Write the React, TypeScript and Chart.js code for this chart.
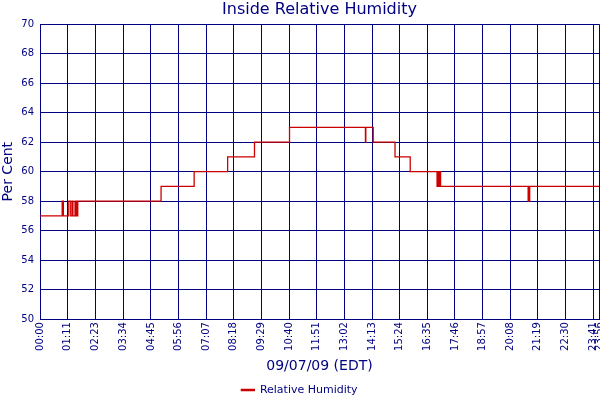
import React, { useRef, useEffect } from 'react';
import Chart from 'chart.js/auto';

// minutes after midnight where the reading changes, and the new reading
const changeMinutes = [
    0, 57, 60, 74, 79, 83, 84.5, 90, 91.5, 93, 94.5, 97,
    311, 396, 482, 551, 641,
    836, 837, 856, 912, 951,
    1020, 1021, 1023, 1024.5, 1026, 1027.5, 1029,
    1254, 1255, 1257, 1258, 1436,
];
const humidity = [
    57, 58, 57, 58, 57, 58, 57, 58, 57, 58, 57, 58,
    59, 60, 61, 62, 63,
    62, 63, 62, 61, 60,
    59, 60, 59, 60, 59, 60, 59,
    58, 59, 58, 59, 59,
];
const tickLabels = [
    '00:00', '01:11', '02:23', '03:34', '04:45', '05:56', '07:07', '08:18',
    '09:29', '10:40', '11:51', '13:02', '14:13', '15:24', '16:35', '17:46',
    '18:57', '20:08', '21:19', '22:30', '23:41', '23:56',
];

const NAVY = '#000080';
const RED = '#cc0000';
const FONT = 'DejaVu Sans';

const toMinutes = (s: string) => {
    const [h, m] = s.split(':').map(Number);
    return h * 60 + m;
};
const tickMinutes = tickLabels.map(toMinutes);

const HumidityChart: React.FC = () => {
    const canvasRef = useRef<HTMLCanvasElement>(null);
    const chartRef = useRef<Chart | null>(null);

    useEffect(() => {
        document.body.style.margin = '0';
        if (chartRef.current) chartRef.current.destroy();
        if (!canvasRef.current) return;

        chartRef.current = new Chart(canvasRef.current, {
            type: 'line',
            data: {
                datasets: [{
                    label: 'Relative Humidity',
                    data: changeMinutes.map((x, i) => ({ x, y: humidity[i] })),
                    borderColor: RED,
                    backgroundColor: RED,
                    borderWidth: 1.3,
                    pointRadius: 0,
                    stepped: true,
                    fill: false,
                }],
            },
            options: {
                responsive: false,
                animation: false,
                layout: { padding: { top: 0, left: 0, right: 1, bottom: -5.5 } },
                plugins: {
                    title: {
                        display: true,
                        text: 'Inside Relative Humidity',
                        color: NAVY,
                        fullSize: false,
                        font: { family: FONT, size: 16, weight: 'normal' },
                        padding: { top: 0, bottom: 5 },
                    },
                    legend: {
                        position: 'bottom',
                        labels: {
                            boxWidth: 13,
                            boxHeight: 1,
                            padding: 10,
                            color: NAVY,
                            font: { family: FONT, size: 11 },
                        },
                    },
                    tooltip: { enabled: false },
                },
                scales: {
                    x: {
                        type: 'linear',
                        min: 0,
                        max: tickMinutes[tickMinutes.length - 1],
                        afterBuildTicks: (scale: any) => {
                            scale.ticks = tickMinutes.map((value) => ({ value }));
                        },
                        afterFit: (scale: any) => {
                            scale.height = 55.4;
                            scale.paddingLeft = 0;
                            scale.paddingRight = 0;
                        },
                        grid: { color: NAVY, lineWidth: 1, drawTicks: false },
                        border: { color: NAVY },
                        ticks: {
                            autoSkip: false,
                            minRotation: 90,
                            maxRotation: 90,
                            padding: 3,
                            color: NAVY,
                            font: { family: FONT, size: 10 },
                            callback: (_v: any, i: number) => tickLabels[i],
                        },
                        title: {
                            display: true,
                            text: '09/07/09 (EDT)',
                            color: NAVY,
                            font: { family: FONT, size: 14 },
                            padding: { top: 0, bottom: 0 },
                        },
                    },
                    y: {
                        min: 50,
                        max: 70,
                        afterFit: (scale: any) => { scale.width = 40; },
                        grid: { color: NAVY, lineWidth: 1, drawTicks: false },
                        border: { color: NAVY },
                        ticks: {
                            stepSize: 2,
                            padding: 6,
                            color: NAVY,
                            font: { family: FONT, size: 10 },
                        },
                        title: {
                            display: true,
                            text: 'Per Cent',
                            color: NAVY,
                            font: { family: FONT, size: 14 },
                            padding: 0,
                        },
                    },
                },
            },
        });

        return () => { if (chartRef.current) chartRef.current.destroy(); };
    }, []);

    return <canvas ref={canvasRef} width={600} height={400}></canvas>;
};

const App: React.FC = () => <HumidityChart />;

export default App;
